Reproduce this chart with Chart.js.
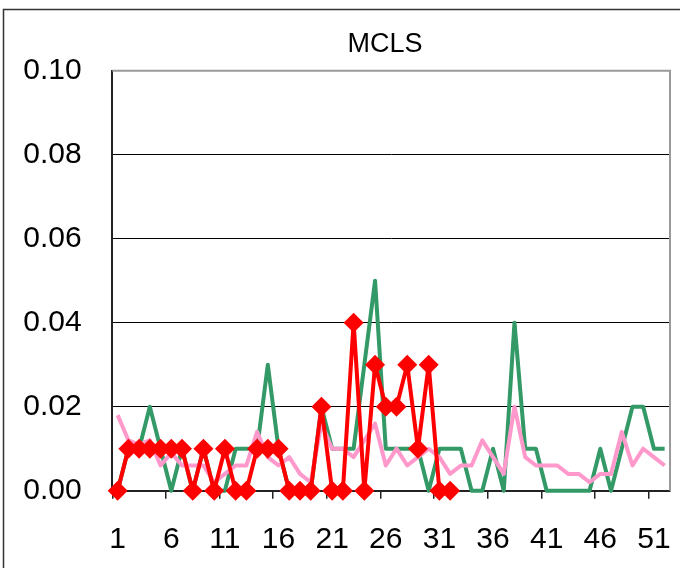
<!DOCTYPE html>
<html>
<head>
<meta charset="utf-8">
<script src="https://cdn.jsdelivr.net/npm/chart.js@4/dist/chart.umd.min.js"></script>
<style>
  html, body { margin: 0; padding: 0; background: #fff; }
  #wrap { width: 680px; height: 568px; position: relative; }
</style>
</head>
<body>
<div id="wrap"><canvas id="c" width="680" height="568"></canvas></div>
<script>
const title = "MCLS";
const categories = ["1","2","3","4","5","6","7","8","9","10","11","12","13","14","15","16","17","18","19","20","21","22","23","24","25","26","27","28","29","30","31","32","33","34","35","36","37","38","39","40","41","42","43","44","45","46","47","48","49","50","51","52"];
const greenSeries = [0,0.01,0.01,0.02,0.01,0,0.01,0,0.01,0,0,0.01,0.01,0.01,0.03,0.01,0,0,0,0.02,0.01,0.01,0.01,0.03,0.05,0.01,0.01,0.01,0.01,0,0.01,0.01,0.01,0,0,0.01,0,0.04,0.01,0.01,0,0,0,0,0,0.01,0,0.01,0.02,0.02,0.01,0.01];
const redSeries = [0,0.01,0.01,0.01,0.01,0.01,0.01,0,0.01,0,0.01,0,0,0.01,0.01,0.01,0,0,0,0.02,0,0,0.04,0,0.03,0.02,0.02,0.03,0.01,0.03,0,0];
const pinkSeries = [0.018,0.012,0.011,0.012,0.006,0.009,0.006,0.006,0.006,0.002,0.004,0.006,0.006,0.014,0.008,0.006,0.008,0.004,0.002,0.016,0.010,0.010,0.008,0.012,0.016,0.006,0.010,0.006,0.008,0.010,0.008,0.004,0.006,0.006,0.012,0.008,0.004,0.020,0.008,0.006,0.006,0.006,0.004,0.004,0.002,0.004,0.004,0.014,0.006,0.010,0.008,0.006];
const yTicks = [0, 0.02, 0.04, 0.06, 0.08, 0.10];

const FONT = "'Liberation Sans', Arial, sans-serif";

const framePlugin = {
  id: 'frame',
  beforeDraw(chart) {
    const ctx = chart.ctx;
    ctx.save();
    ctx.fillStyle = '#fff';
    ctx.fillRect(0, 0, chart.width, chart.height);
    ctx.strokeStyle = '#333';
    ctx.lineWidth = 1.5;
    ctx.strokeRect(3.5, 9.5, 720, 620);
    ctx.restore();
  },
  afterDatasetsDraw(chart) {
    const a = chart.chartArea;
    const ctx = chart.ctx;
    ctx.save();
    ctx.strokeStyle = '#9a9a9a';
    ctx.lineWidth = 2;
    ctx.beginPath();
    ctx.moveTo(a.left, a.top);
    ctx.lineTo(a.right, a.top);
    ctx.lineTo(a.right, a.bottom);
    ctx.stroke();
    ctx.fillStyle = '#000';
    ctx.font = '27px ' + FONT;
    ctx.textAlign = 'center';
    ctx.textBaseline = 'middle';
    ctx.fillText(title, 385, 45);
    ctx.restore();
  }
};

new Chart(document.getElementById('c'), {
  type: 'line',
  data: {
    labels: categories,
    datasets: [
      {
        label: 'red', data: redSeries, order: 0, clip: false,
        borderColor: '#FF0000', backgroundColor: '#FF0000',
        borderWidth: 4, pointStyle: 'rectRot', pointRadius: 10,
        pointBorderWidth: 0, tension: 0, borderJoinStyle: 'round', spanGaps: false
      },
      {
        label: 'pink', data: pinkSeries, order: 1, clip: false,
        borderColor: '#FF99CC', backgroundColor: '#FF99CC',
        borderWidth: 4, pointRadius: 0, tension: 0, borderJoinStyle: 'round'
      },
      {
        label: 'green', data: greenSeries, order: 2, clip: false,
        borderColor: '#339966', backgroundColor: '#339966',
        borderWidth: 4, pointRadius: 0, tension: 0, borderJoinStyle: 'round'
      }
    ]
  },
  options: {
    responsive: false,
    animation: false,
    events: [],
    layout: { padding: { left: 12.3, right: 7.3, top: 70.7, bottom: 0 } },
    plugins: { legend: { display: false }, tooltip: { enabled: false }, title: { display: false } },
    scales: {
      x: {
        type: 'category',
        offset: true,
        afterFit(s) { s.height = 77.3; s.paddingLeft = 0; s.paddingRight = 0; },
        grid: {
          offset: true,
          drawOnChartArea: false,
          drawTicks: true,
          tickLength: 8,
          lineWidth: 1.5,
          color: (c) => (c.index % 5 === 0 ? '#222' : 'rgba(0,0,0,0)')
        },
        border: { display: true, color: '#222', width: 2 },
        ticks: {
          autoSkip: false, maxRotation: 0, minRotation: 0, padding: 23,
          color: '#000', font: { family: FONT, size: 30 },
          callback: function (v, i) { return i % 5 === 0 ? this.getLabelForValue(v) : ''; }
        }
      },
      y: {
        min: 0, max: 0.1,
        afterFit(s) { s.width = 100; s.paddingTop = 0; s.paddingBottom = 0; },
        afterBuildTicks(s) { s.ticks = yTicks.map(v => ({ value: v })); },
        grid: {
          drawTicks: false,
          lineWidth: 1,
          color: (c) => (c.tick && c.tick.value > 0.099 ? 'rgba(0,0,0,0)' : '#000')
        },
        border: { display: true, color: '#222', width: 2 },
        ticks: {
          padding: 30.6, color: '#000', font: { family: FONT, size: 30 },
          callback: (v) => Number(v).toFixed(2)
        }
      }
    }
  },
  plugins: [framePlugin]
});
</script>
</body>
</html>
